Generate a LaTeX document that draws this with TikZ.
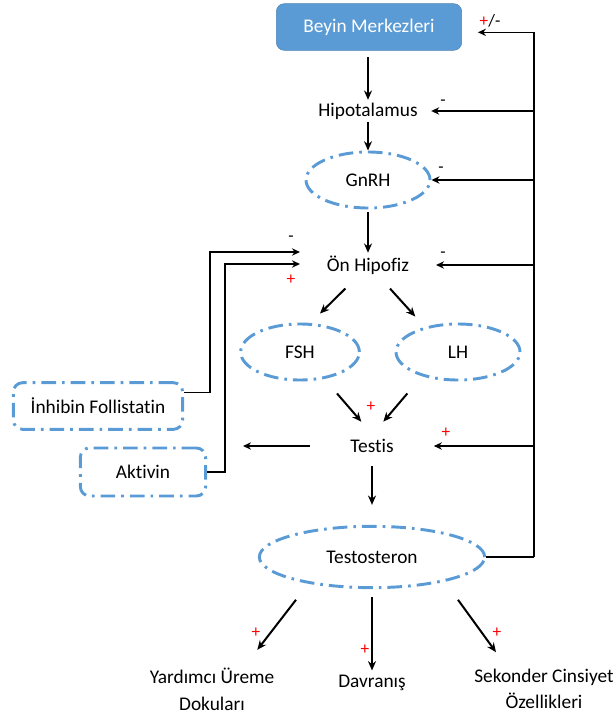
\documentclass[tikz,border=0pt]{standalone}
\usepackage{fontspec}
\setmainfont{Carlito}[Ligatures=NoCommon]
\usetikzlibrary{arrows.meta, shapes.geometric, calc}
\definecolor{hormblue}{HTML}{5B9BD5}

\begin{document}
\begin{tikzpicture}[x=0.75pt,y=-0.75pt,
    font=\fontsize{14.5}{17}\selectfont,
    lbl/.style={inner xsep=10pt,inner ysep=2pt},
    horm/.style={ellipse,draw=hormblue,line width=2.2pt,inner sep=0pt,
        dash pattern=on 11pt off 4.5pt on 2pt off 4.5pt},
    regl/.style={rectangle,rounded corners=7pt,draw=hormblue,line width=2.2pt,
        dash pattern=on 11pt off 4.5pt on 2pt off 4.5pt},
    arr/.style={-{Stealth[length=7pt,width=6pt]},line width=1.5pt},
    fb/.style={-{Stealth[length=6pt,width=5.5pt]},line width=1.1pt},
    sgn/.style={font=\fontsize{13}{13}\selectfont,inner sep=0pt},
    plussgn/.style={sgn,text=red}]
\useasboundingbox (0,0) rectangle (616,724);

% Hormone axis
\node[rectangle,rounded corners=6pt,fill=hormblue,draw=hormblue!85!black,
    minimum width=139pt,minimum height=35pt,text=white] (beyin) at (369,27) {Beyin Merkezleri};
\node[lbl] (hipo) at (368,111) {Hipotalamus};
\node[horm,minimum width=93pt,minimum height=42pt] (gnrh) at (368,180) {GnRH};
\node[lbl,inner xsep=20pt] (onh) at (368,265) {Ön Hipofiz};
\node[horm,minimum width=89pt,minimum height=42pt] (fsh) at (300,352) {FSH};
\node[horm,minimum width=93pt,minimum height=42pt] (lh) at (458,352) {LH};
\node[lbl,inner xsep=30pt] (testis) at (372,446) {Testis};
\node[horm,minimum width=169pt,minimum height=46pt] (testo) at (372,557) {Testosteron};

% Gonadal peptides
\node[regl,minimum width=127pt,minimum height=35pt] (inh) at (98,406) {İnhibin Follistatin};
\node[regl,minimum width=94pt,minimum height=36pt] (akt) at (143,472) {Aktivin};

% Target tissues
\node[align=center,font=\fontsize{14.5}{20}\selectfont] (yard) at (212,689) {Yardımcı Üreme\\Dokuları};
\node (dav) at (372,683) {Davranış};
\node[align=center,font=\fontsize{14.5}{20}\selectfont] (sek) at (544,689) {Sekonder Cinsiyet\\Özellikleri};

% Main cascade
\draw[arr,shorten <=5pt] (beyin.south -| hipo) -- (hipo.north);
\draw[arr] (hipo.south) -- (gnrh.north);
\draw[arr,shorten <=2pt] (gnrh.south) -- (onh.north);
\draw[arr] ([xshift=-17pt,yshift=-8.5pt]onh.south) -- ([xshift=15pt,yshift=6.75pt]fsh.north);
\draw[arr] ([xshift=16.5pt,yshift=-8.5pt]onh.south) -- ([xshift=-32pt,yshift=4.5pt]lh.north);
\draw[arr] ([xshift=27.75pt,yshift=-9pt]fsh.south) -- ([xshift=-8pt,yshift=11pt]testis.north);
\draw[arr] ([xshift=-38pt,yshift=-9pt]lh.south) -- ([xshift=8.5pt,yshift=11pt]testis.north);
\draw[arr,shorten <=8pt,shorten >=15pt] (testis.south) -- (testo.north);

% Effects of testosterone
\draw[arr] ([xshift=-57pt,yshift=-8pt]testo.south) -- ([xshift=34pt,yshift=10pt]yard.north);
\draw[arr,shorten <=6pt] (testo.south) -- (dav.north);
\draw[arr] ([xshift=64.5pt,yshift=-8pt]testo.south) -- ([xshift=-36pt,yshift=9pt]sek.north);

% Testosterone feedback (right)
\coordinate (busx) at (534,0);
\coordinate (bt) at ([yshift=-4pt]beyin.east);
\coordinate (lft) at (243,446);
\draw[line width=2pt] (testo.east) -- (testo.east -| busx);
\draw[fb,shorten >=12pt] (testo.east -| busx) -- (bt -| busx) -- (bt);
\draw[fb] (hipo -| busx) -- (hipo.east);
\draw[fb] (gnrh -| busx) -- (gnrh.east);
\draw[fb] (onh -| busx) -- (onh.east);
\draw[fb] (testis -| busx) -- (testis.east);
\draw[fb] (testis.west) -- (lft);

% Peptide feedback (left)
\draw[fb] ([yshift=10pt]inh.east) -- ++(26,0) |- ([yshift=9.75pt]onh.west);
\draw[fb] (akt.east) -- ++(18,0) |- ([yshift=0.75pt]onh.west);

% Signs
\node[sgn] (s1) at (490,21) {\textcolor{red}{+}/-};
\node[sgn] (s2) at (443,103) {-};
\node[sgn] (s3) at (441,170) {-};
\node[sgn] (s4) at (443,255) {-};
\node[sgn] (s5) at (291,239) {-};
\node[plussgn] (s6) at (291,280) {+};
\node[plussgn] (s7) at (371,407) {+};
\node[plussgn] (s8) at (446,433) {+};
\node[plussgn] (s9) at (256,633) {+};
\node[plussgn] (s10) at (365,650) {+};
\node[plussgn] (s11) at (497,633) {+};
\end{tikzpicture}
\end{document}
